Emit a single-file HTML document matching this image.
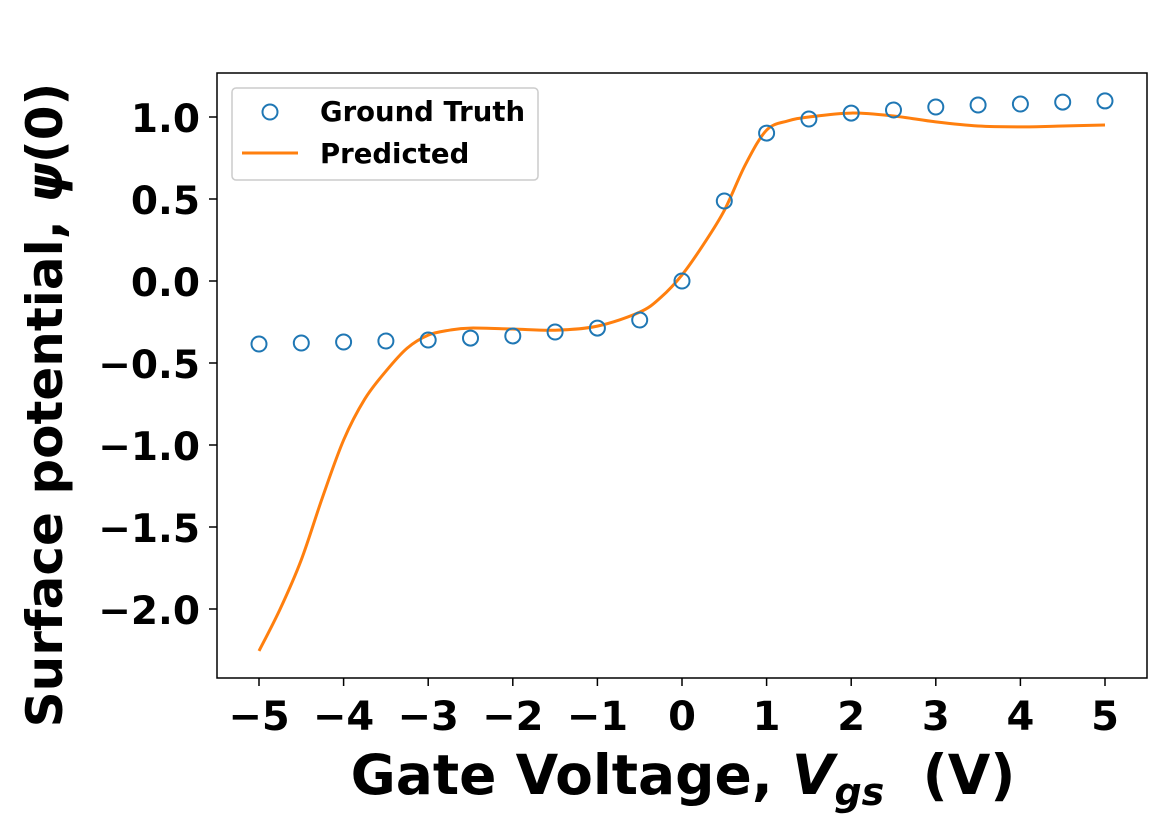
<!DOCTYPE html>
<html><head><meta charset="utf-8">
<style>
html,body{margin:0;padding:0;background:#fff;}
svg{display:block;font-family:"DejaVu Sans","Liberation Sans",sans-serif;font-weight:bold;}
</style></head>
<body>
<svg id="chart" width="1167" height="831">
<rect x="217" y="73" width="930" height="605" fill="none" stroke="#000" stroke-width="1.5"/>
<g id="xt"></g>
<g id="yt"></g>
<path id="pred" fill="none" stroke="#ff7f0e" stroke-width="3"/>
<g id="gt"></g>
<text x="683" y="794" font-size="55" text-anchor="middle" xml:space="preserve" style="white-space:pre">Gate Voltage, <tspan font-style="italic">V</tspan><tspan font-style="italic" font-size="38" dy="11">gs</tspan><tspan dy="-11">  (V)</tspan></text>
<text transform="translate(62,405) rotate(-90)" font-size="50" text-anchor="middle">Surface potential, <tspan font-style="italic">ψ</tspan>(0)</text>
<g>
<rect x="232" y="88" width="306" height="92" rx="4" fill="#fff" stroke="#ccc" stroke-width="1.5"/>
<circle cx="270" cy="112" r="7.5" fill="none" stroke="#1f77b4" stroke-width="2"/>
<text x="320" y="121" font-size="27.5">Ground Truth</text>
<line x1="242" y1="153" x2="298" y2="153" stroke="#ff7f0e" stroke-width="3"/>
<text x="320" y="163" font-size="27.5">Predicted</text>
</g>
</svg>
<script>
const gtX=[-5,-4.5,-4,-3.5,-3,-2.5,-2,-1.5,-1,-0.5,0,0.5,1,1.5,2,2.5,3,3.5,4,4.5,5];
const gtY=[-0.384,-0.378,-0.372,-0.366,-0.36,-0.348,-0.335,-0.311,-0.287,-0.238,0,0.488,0.902,0.988,1.024,1.043,1.061,1.073,1.079,1.091,1.098];
const predX=[-5,-4.75,-4.5,-4.25,-4,-3.75,-3.5,-3.25,-3,-2.75,-2.5,-2,-1.5,-1,-0.5,-0.25,0,0.25,0.5,0.75,1,1.25,1.5,2,2.5,3,3.5,4,4.5,5];
const predY=[-2.256,-2.0,-1.70,-1.32,-0.97,-0.72,-0.55,-0.41,-0.33,-0.30,-0.287,-0.293,-0.30,-0.275,-0.19,-0.10,0.037,0.22,0.43,0.71,0.92,0.976,1.0,1.024,1.006,0.97,0.945,0.94,0.945,0.951];
const xTicks=[-5,-4,-3,-2,-1,0,1,2,3,4,5];
const yTicks=[-2.0,-1.5,-1.0,-0.5,0.0,0.5,1.0];
const sx=v=>259+(v+5)*84.6;
const sy=v=>281-v*164;
const NS="http://www.w3.org/2000/svg";
const fmt=(v,d)=>(v<0?"\u2212":"")+Math.abs(v).toFixed(d);
const xt=document.getElementById('xt');
xTicks.forEach(t=>{
 const l=document.createElementNS(NS,'line');
 l.setAttribute('x1',sx(t));l.setAttribute('x2',sx(t));l.setAttribute('y1',678);l.setAttribute('y2',686);l.setAttribute('stroke','#000');l.setAttribute('stroke-width','1.5');
 
 
 xt.appendChild(l);
 const tx=document.createElementNS(NS,'text');
 tx.setAttribute('x',sx(t));tx.setAttribute('y',730);tx.setAttribute('font-size','40');tx.setAttribute('text-anchor','middle');
 tx.textContent=fmt(t,0);
 
 
 xt.appendChild(tx);
});
const yt=document.getElementById('yt');
yTicks.forEach(t=>{
 const l=document.createElementNS(NS,'line');
 l.setAttribute('x1',209);l.setAttribute('x2',217);l.setAttribute('y1',sy(t));l.setAttribute('y2',sy(t));l.setAttribute('stroke','#000');l.setAttribute('stroke-width','1.5');
 
 
 yt.appendChild(l);
 const tx=document.createElementNS(NS,'text');
 tx.setAttribute('x',200);tx.setAttribute('y',sy(t)+15);tx.setAttribute('font-size','39');tx.setAttribute('text-anchor','end');
 tx.textContent=fmt(t,1);
 
 
 yt.appendChild(tx);
});
const P=predX.map((x,i)=>[sx(x),sy(predY[i])]);
let d=`M${P[0][0]},${P[0][1]}`;
for(let i=0;i<P.length-1;i++){
 const p0=P[i-1]||P[i],p1=P[i],p2=P[i+1],p3=P[i+2]||p2;
 const c1=[p1[0]+(p2[0]-p0[0])/6,p1[1]+(p2[1]-p0[1])/6];
 const c2=[p2[0]-(p3[0]-p1[0])/6,p2[1]-(p3[1]-p1[1])/6];
 d+=` C${c1[0]},${c1[1]} ${c2[0]},${c2[1]} ${p2[0]},${p2[1]}`;
}
document.getElementById('pred').setAttribute('d',d);
const gt=document.getElementById('gt');
gtX.forEach((x,i)=>{
 const c=document.createElementNS(NS,'circle');
 c.setAttribute('cx',sx(x));c.setAttribute('cy',sy(gtY[i]));c.setAttribute('r',7.5);
 c.setAttribute('fill','none');c.setAttribute('stroke','#1f77b4');c.setAttribute('stroke-width','2');
 
 
 gt.appendChild(c);
});
</script>
</body></html>
